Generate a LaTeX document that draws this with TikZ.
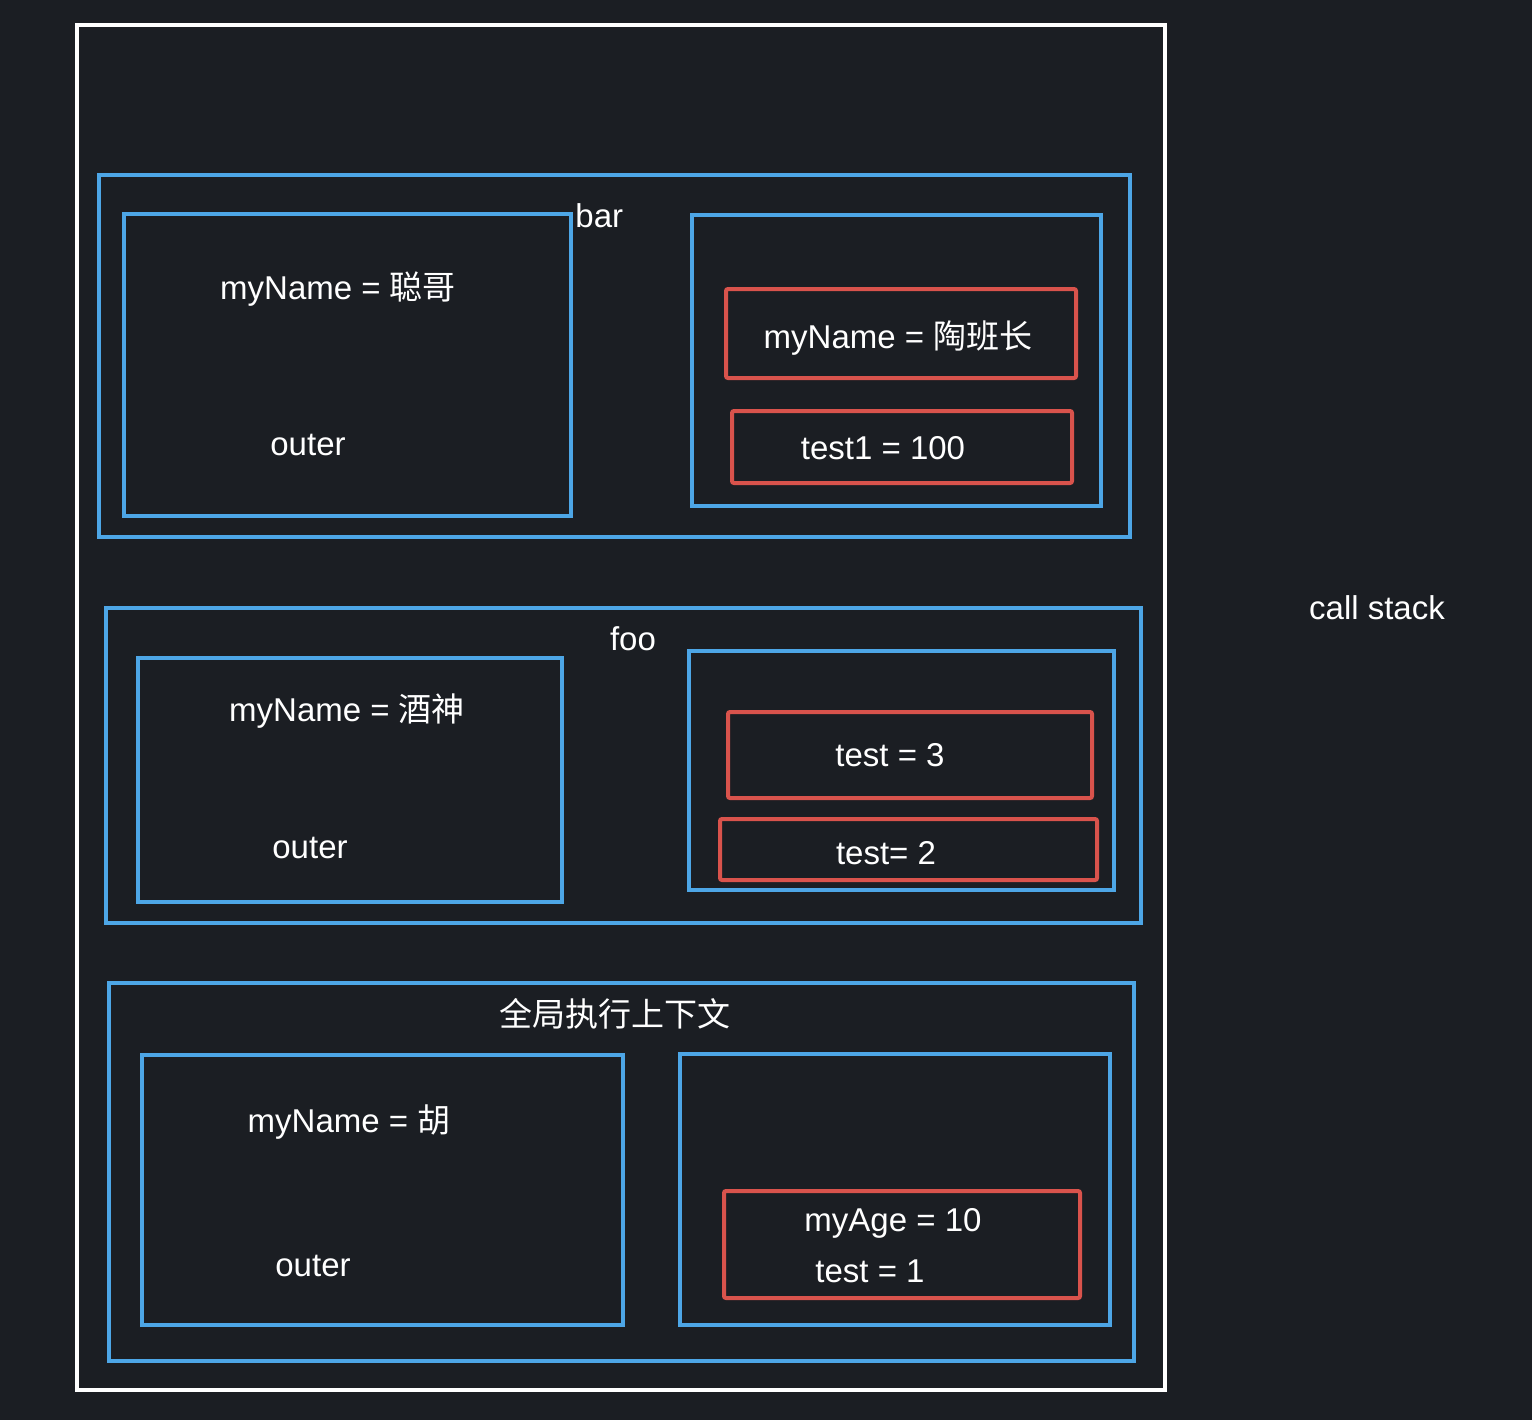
\documentclass[tikz,border=0pt]{standalone}
\usepackage{fontspec}
\setmainfont{Liberation Sans}
\newfontfamily\cjk{Noto Sans CJK SC}
\definecolor{bgc}{HTML}{1B1E23}
\definecolor{bluec}{HTML}{4DA6E6}
\definecolor{redc}{HTML}{D9534C}
\tikzset{
  frame/.style={draw=white, line width=1.8pt},
  bluebox/.style={draw=bluec, line width=2pt},
  redbox/.style={draw=redc, line width=2pt, rounded corners=1pt},
  lbl/.style={text=white, font=\fontsize{16.5}{18}\selectfont, inner sep=0pt, anchor=base}
}
\begin{document}
\begin{tikzpicture}[x=0.5pt,y=-0.5pt]
\fill[bgc] (0,0) rectangle (1532,1420);
\useasboundingbox (0,0) rectangle (1532,1420);
% main frame
\draw[frame] (77,25) rectangle (1165,1390);
% bar
\draw[bluebox] (99,175) rectangle (1130,537);
\draw[bluebox] (124,214) rectangle (571,516);
\draw[bluebox] (692,215) rectangle (1101,506);
\draw[redbox] (726,289) rectangle (1076,378);
\draw[redbox] (732,411) rectangle (1072,483);
\node[lbl, anchor=base west] (bar) at (575,227) {bar};
\node[lbl] (n1) at (338,299) {myName = {\cjk 聪哥}};
\node[lbl] (o1) at (308,455) {outer};
\node[lbl] (r1) at (898,348) {myName = {\cjk 陶班长}};
\node[lbl] (r2) at (883,459) {test1 = 100};
% foo
\draw[bluebox] (106,608) rectangle (1141,923);
\draw[bluebox] (138,658) rectangle (562,902);
\draw[bluebox] (689,651) rectangle (1114,890);
\draw[redbox] (728,712) rectangle (1092,798);
\draw[redbox] (720,819) rectangle (1097,880);
\node[lbl] (foo) at (633,650) {foo};
\node[lbl] (n2) at (347,721) {myName = {\cjk 酒神}};
\node[lbl] (o2) at (310,858) {outer};
\node[lbl] (r3) at (890,766) {test = 3};
\node[lbl] (r4) at (886,864) {test= 2};
% global
\draw[bluebox] (109,983) rectangle (1134,1361);
\draw[bluebox] (142,1055) rectangle (623,1325);
\draw[bluebox] (680,1054) rectangle (1110,1325);
\draw[redbox] (724,1191) rectangle (1080,1298);
\node[lbl] (g) at (615,1026) {\cjk 全局执行上下文};
\node[lbl] (n3) at (349,1132) {myName = {\cjk 胡}};
\node[lbl] (o3) at (313,1276) {outer};
\node[lbl] (r5) at (893,1231) {myAge = 10};
\node[lbl] (r6) at (870,1282) {test = 1};
% call stack
\node[lbl] (cs) at (1377,619) {call stack};
\end{tikzpicture}
\end{document}
